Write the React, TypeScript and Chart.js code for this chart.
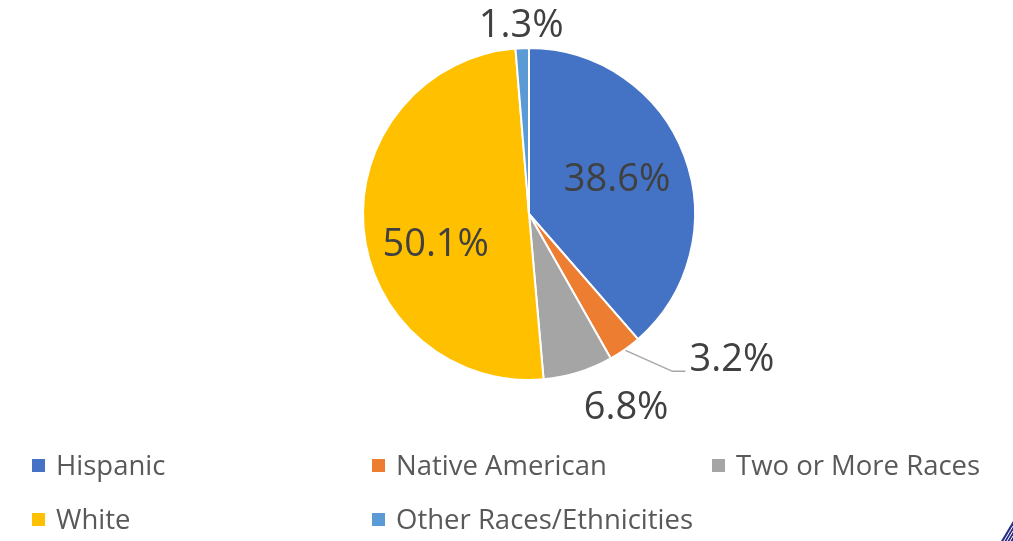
import React, { useEffect, useRef } from "react";
import { Chart, registerables } from "chart.js";

Chart.register(...registerables);

const categories = ["Hispanic", "Native American", "Two or More Races", "White", "Other Races/Ethnicities"];
const shares = [38.6, 3.2, 6.8, 50.1, 1.3];
const colors = ["#4472C4", "#ED7D31", "#A5A5A5", "#FFC000", "#5B9BD5"];
const labelTexts = ["38.6%", "3.2%", "6.8%", "50.1%", "1.3%"];

// label placement styles: kind, radial factor, alignment, nudges
const labelStyles = [
  { kind: "inside", f: 0.56, align: "center", dx: 1, dy: -1 },
  { kind: "leader", f: 1.0, align: "left", dx: 0, dy: 0 },
  { kind: "outside", f: 1.19, align: "left", dx: -4, dy: 6 },
  { kind: "inside", f: 0.57, align: "center", dx: 1, dy: 23 },
  { kind: "outside", f: 1.16, align: "center", dx: 0, dy: 5 },
];

const legendCols = [32, 372, 712];
const legendRows = [466, 520];

const overlayPlugin = {
  id: "overlay",
  afterDraw(chart: any) {
    const ctx = chart.ctx;
    const meta = chart.getDatasetMeta(0);
    ctx.save();
    meta.data.forEach((arc: any, i: number) => {
      const p = arc.getProps(["x", "y", "startAngle", "endAngle", "outerRadius"], true);
      const mid = (p.startAngle + p.endAngle) / 2;
      const st = labelStyles[i];
      const R = p.outerRadius;
      const cx = Math.cos(mid), cy = Math.sin(mid);
      ctx.font = "38px 'Open Sans'";
      ctx.fillStyle = "#404040";
      ctx.textBaseline = "middle";
      if (st.kind === "leader") {
        const sx = p.x + cx * (R + 1);
        const sy = p.y + cy * (R + 1);
        const ex = sx + 47, ey = sy + 21;
        const fx = ex + 13;
        ctx.strokeStyle = "#A6A6A6";
        ctx.lineWidth = 1.5;
        ctx.beginPath();
        ctx.moveTo(sx, sy);
        ctx.lineTo(ex, ey);
        ctx.lineTo(fx, ey);
        ctx.stroke();
        ctx.textAlign = "left";
        ctx.fillText(labelTexts[i], fx + 4, ey - 11);
      } else {
        const tx = p.x + cx * R * st.f + st.dx;
        const ty = p.y + cy * R * st.f + st.dy;
        ctx.textAlign = st.align;
        ctx.fillText(labelTexts[i], tx, ty);
      }
    });
    // legend
    ctx.font = "27.5px 'Open Sans'";
    ctx.textAlign = "left";
    ctx.textBaseline = "middle";
    categories.forEach((c, i) => {
      const col = legendCols[i % 3];
      const row = legendRows[Math.floor(i / 3)];
      ctx.fillStyle = colors[i];
      ctx.fillRect(col, row - 7, 13, 13);
      ctx.fillStyle = "#595959";
      ctx.fillText(c, col + 24, row + 1);
    });
    // corner logo fragment
    ctx.fillStyle = "#2B2F8C";
    ctx.beginPath();
    ctx.moveTo(1001, 541);
    ctx.lineTo(1013, 521);
    ctx.lineTo(1013, 541);
    ctx.closePath();
    ctx.fill();
    ctx.strokeStyle = "#FFFFFF";
    ctx.lineWidth = 1;
    for (let k = 0; k < 3; k++) {
      ctx.beginPath();
      ctx.moveTo(1004 + k * 3, 541);
      ctx.lineTo(1013, 526 + k * 5);
      ctx.stroke();
    }
    ctx.restore();
  },
};

export default function App() {
  const ref = useRef<HTMLCanvasElement>(null);
  useEffect(() => {
    document.body.style.margin = "0";
    const chart = new Chart(ref.current as HTMLCanvasElement, {
      type: "pie",
      data: {
        labels: categories,
        datasets: [
          {
            data: shares,
            backgroundColor: colors,
            borderColor: "#FFFFFF",
            borderWidth: 2,
            hoverOffset: 0,
          },
        ],
      },
      options: {
        responsive: false,
        animation: false,
        layout: { padding: { left: 362, right: 317, top: 47, bottom: 160 } },
        plugins: { legend: { display: false }, tooltip: { enabled: false } },
      },
      plugins: [overlayPlugin],
    });
    return () => chart.destroy();
  }, []);
  return (
    <div style={{ position: "fixed", left: 0, top: 0, width: 1013, height: 541, background: "#fff" }}>
      <canvas ref={ref} width={1013} height={541} />
    </div>
  );
}
